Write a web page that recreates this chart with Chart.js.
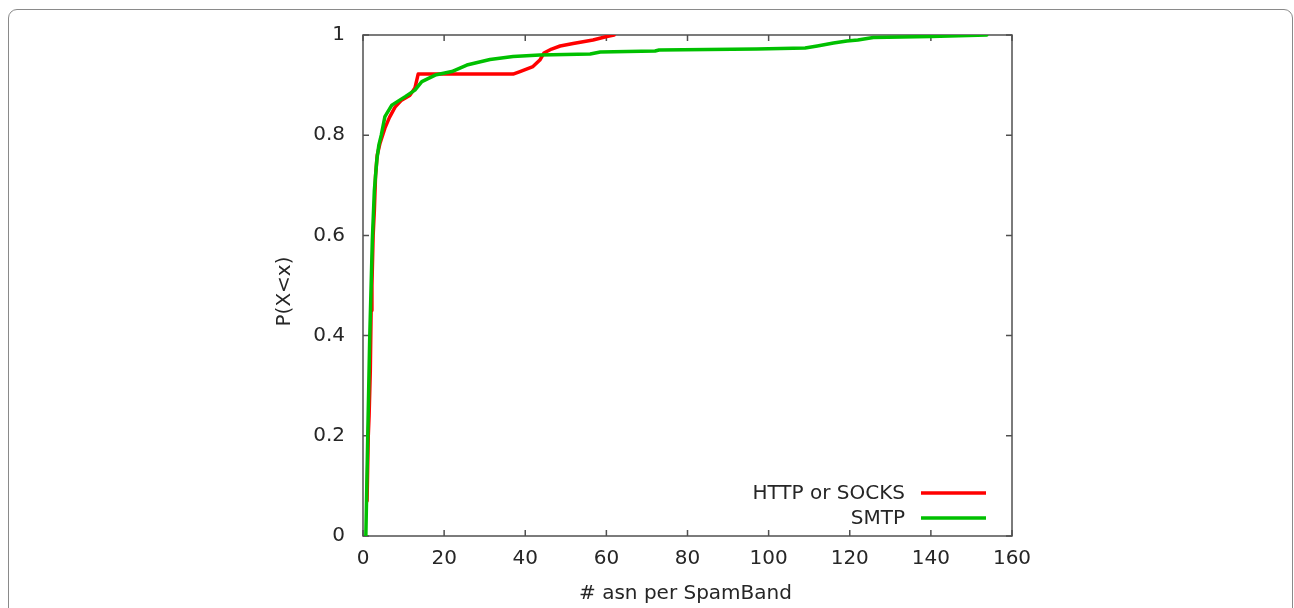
<!DOCTYPE html>
<html>
<head>
<meta charset="utf-8">
<script src="https://cdn.jsdelivr.net/npm/chart.js@4/dist/chart.umd.min.js"></script>
<style>
  html, body { margin: 0; padding: 0; background: #fff; }
  body { width: 1294px; height: 608px; position: relative; overflow: hidden; }
  #frame { position: absolute; left: 8px; top: 9px; width: 1285px; height: 640px;
           border: 1.5px solid #8a8a8a; border-radius: 9px; box-sizing: border-box; }
  canvas { position: absolute; left: 0; top: 0; }
</style>
</head>
<body>
<div id="frame"></div>
<canvas id="c" width="1294" height="608"></canvas>
<script>
// ---- data ----
const seriesNames = ["HTTP or SOCKS", "SMTP"];
const seriesColors = ["#ff0000", "#00c000"];

const httpX = [1, 1.3, 1.5, 1.8, 2, 2.2, 2.5, 2.8, 3.1, 3.5, 4.2, 5.4, 6.5, 7.9, 9.5, 11.6, 12.8, 13.6, 20, 30, 37, 38.7, 41.9, 43.6, 44.6, 46.5, 48.6, 51.8, 56.7, 60.1, 61.9];
const httpY = [0.07, 0.2, 0.24, 0.33, 0.45, 0.5, 0.6, 0.65, 0.72, 0.76, 0.784, 0.814, 0.835, 0.856, 0.87, 0.88, 0.894, 0.922, 0.922, 0.922, 0.922, 0.927, 0.937, 0.95, 0.964, 0.972, 0.978, 0.983, 0.99, 0.997, 1.0];

const smtpX = [0.7, 1.15, 1.64, 2.3, 2.8, 3.4, 3.9, 4.5, 5.4, 7.1, 10.4, 12.8, 14.5, 17.8, 21.9, 25.6, 31.3, 37, 43.6, 56, 58.5, 72, 73, 97, 109, 112, 116, 119.3, 122, 125.8, 140, 153.8];
const smtpY = [0, 0.19, 0.39, 0.59, 0.69, 0.75, 0.78, 0.8, 0.837, 0.86, 0.877, 0.89, 0.907, 0.92, 0.927, 0.94, 0.951, 0.957, 0.96, 0.962, 0.966, 0.968, 0.97, 0.972, 0.974, 0.978, 0.984, 0.988, 0.99, 0.995, 0.997, 1.0];

const xTicks = [0, 20, 40, 60, 80, 100, 120, 140, 160];
const xTickLabels = ["0", "20", "40", "60", "80", "100", "120", "140", "160"];
const yTicks = [0, 0.2, 0.4, 0.6, 0.8, 1];
const yTickLabels = ["0", "0.2", "0.4", "0.6", "0.8", "1"];
const xTitle = "# asn per SpamBand";
const yTitle = "P(X<x)";

// ---- build ----
const toPts = (xs, ys) => xs.map((x, i) => ({ x: x, y: ys[i] }));
const FONT = "DejaVu Sans";
const FS = 20;
const TXT = "#262626";
const AXIS = "#505050";

const framePlugin = {
  id: "framePlugin",
  beforeDatasetsDraw(chart) {
    const { ctx, chartArea: a, scales } = chart;
    ctx.save();
    ctx.strokeStyle = AXIS;
    ctx.lineWidth = 1.5;
    ctx.strokeRect(a.left, a.top, a.right - a.left, a.bottom - a.top);
    const tl = 6;
    ctx.beginPath();
    xTicks.forEach(v => {
      const px = scales.x.getPixelForValue(v);
      ctx.moveTo(px, a.bottom); ctx.lineTo(px, a.bottom - tl);
      ctx.moveTo(px, a.top); ctx.lineTo(px, a.top + tl);
    });
    yTicks.forEach(v => {
      const py = scales.y.getPixelForValue(v);
      ctx.moveTo(a.left, py); ctx.lineTo(a.left + tl, py);
      ctx.moveTo(a.right, py); ctx.lineTo(a.right - tl, py);
    });
    ctx.stroke();
    ctx.restore();
  },
  afterDatasetsDraw(chart) {
    const { ctx, chartArea: a } = chart;
    ctx.save();
    ctx.fillStyle = TXT;
    ctx.font = FS + "px '" + FONT + "'";
    // axis titles
    ctx.textAlign = "center";
    ctx.textBaseline = "middle";
    ctx.fillText(xTitle, (a.left + a.right) / 2 - 2, a.bottom + 58);
    ctx.save();
    ctx.translate(a.left - 78, (a.top + a.bottom) / 2 + 6);
    ctx.rotate(-Math.PI / 2);
    ctx.fillText(yTitle, 0, 0);
    ctx.restore();
    // legend
    chart.data.datasets.forEach((ds, i) => {
      const y = a.bottom - 43 + i * 25;
      ctx.fillStyle = TXT;
      ctx.textAlign = "right";
      ctx.textBaseline = "middle";
      ctx.fillText(ds.label, a.right - 107, y + 1);
      ctx.strokeStyle = ds.borderColor;
      ctx.lineWidth = 3.5;
      ctx.beginPath();
      ctx.moveTo(a.right - 91, y);
      ctx.lineTo(a.right - 26, y);
      ctx.stroke();
    });
    ctx.restore();
  }
};

new Chart(document.getElementById("c"), {
  type: "scatter",
  data: {
    datasets: [
      { label: seriesNames[0], data: toPts(httpX, httpY), borderColor: seriesColors[0], backgroundColor: seriesColors[0], order: 1 },
      { label: seriesNames[1], data: toPts(smtpX, smtpY), borderColor: seriesColors[1], backgroundColor: seriesColors[1], order: 0 }
    ]
  },
  options: {
    responsive: false,
    animation: false,
    devicePixelRatio: 1,
    showLine: true,
    elements: {
      point: { radius: 0, hoverRadius: 0 },
      line: { borderWidth: 3.5, tension: 0, borderJoinStyle: "round", borderCapStyle: "round" }
    },
    layout: { padding: { left: 0, top: 35, right: 282, bottom: 0 } },
    plugins: { legend: { display: false }, tooltip: { enabled: false } },
    scales: {
      x: {
        type: "linear", min: 0, max: 160,
        afterFit(s) { s.height = 72; },
        afterBuildTicks(s) { s.ticks = xTicks.map(v => ({ value: v })); },
        grid: { display: false, drawTicks: false },
        border: { display: false },
        ticks: { padding: 11, color: TXT, font: { family: FONT, size: FS }, maxRotation: 0,
                 callback: (v, i) => xTickLabels[i] }
      },
      y: {
        type: "linear", min: 0, max: 1,
        afterFit(s) { s.width = 363; },
        afterBuildTicks(s) { s.ticks = yTicks.map(v => ({ value: v })); },
        grid: { display: false, drawTicks: false },
        border: { display: false },
        ticks: { padding: 18, color: TXT, font: { family: FONT, size: FS },
                 callback: (v, i) => yTickLabels[i] }
      }
    }
  },
  plugins: [framePlugin]
});
</script>
</body>
</html>
